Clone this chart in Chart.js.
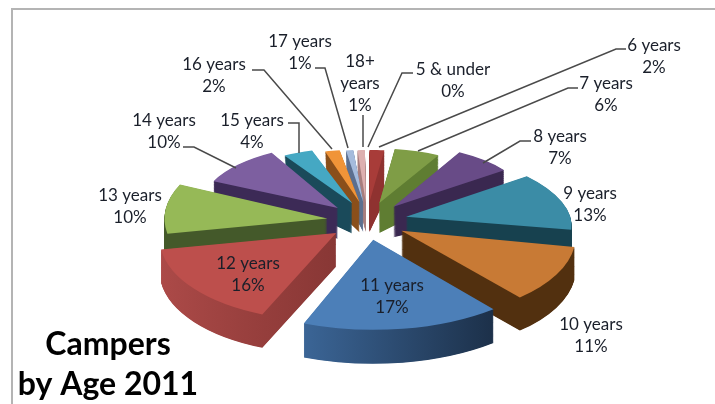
<!DOCTYPE html>
<html>
<head>
<meta charset="utf-8">
<title>Campers by Age 2011</title>
<script src="https://cdn.jsdelivr.net/npm/chart.js@4"></script>
<style>
    html, body { margin: 0; padding: 0; background: #fff; overflow: hidden; }
    #wrap { position: relative; width: 715px; height: 404px; }
    #frame { position: absolute; left: 11px; top: 8px; width: 720px; height: 420px; border: 2px solid #b4b4b4; box-sizing: border-box; }
    #pie { position: absolute; left: 0; top: 0; filter: blur(0.6px); }
</style>
</head>
<body>
<div id="wrap">
    <div id="frame"></div>
    <canvas id="pie" width="715" height="404"></canvas>
</div>
<script>
const categories = ['5 & under', '6 years', '7 years', '8 years', '9 years', '10 years', '11 years',
    '12 years', '13 years', '14 years', '15 years', '16 years', '17 years', '18+ years'];
const campers = [0, 2, 6, 7, 13, 11, 17, 16, 10, 10, 4, 2, 1, 1];

const topColors = ['#4a7ebb', '#a83c39', '#7f9d46', '#684b87', '#3b8ca6', '#c87a35', '#4c7fb8',
    '#bd4f4c', '#96b957', '#7d5fa0', '#45a8c3', '#f09438', '#a5bbdc', '#ddb0b0'];
const sideLeft = ['#33587f', '#8f3230', '#5f7d32', '#3a2850', '#17414f', '#52300f', '#3b6596',
    '#ac4a48', '#44592a', '#3c2a56', '#1a4a5a', '#8a4f1a', '#5c6f8f', '#a87e7e'];
const sideRight = ['#33587f', '#8f3230', '#5f7d32', '#3a2850', '#17414f', '#52300f', '#1c3049',
    '#883735', '#44592a', '#3c2a56', '#1a4a5a', '#8a4f1a', '#5c6f8f', '#a87e7e'];

// label anchor: x, first line y (remaining lines go 22px down)
const labelSpots = [[453, 70], [654, 46], [606, 84], [560, 137], [590, 194], [591, 325], [392, 286],
    [248, 264], [130, 196], [164, 121], [252, 121], [214, 65], [300, 42], [360, 62]];

const leaderLines = [
    [[413, 73], [402, 73], [368, 147]],
    [[626, 49], [616, 49], [379, 147]],
    [[578, 88], [568, 88], [418, 151]],
    [[531, 141], [520, 141], [483, 163]],
    [[183, 147], [194, 147], [236, 168]],
    [[288, 123], [299, 123], [299, 153]],
    [[252, 70], [264, 70], [332, 149]],
    [[315, 68], [325, 68], [348, 148]],
    [[363, 115], [363, 147]]
];

const hubX = 367, hubY = 221;

function sliceShape(arc) {
    const mid = (arc.startAngle + arc.endAngle) / 2 + Math.PI / 2;
    const c = Math.cos(mid), s = Math.sin(mid);
    const rightBack = s > 0 && c > 0 ? 5 * s : 0;
    const frontSide = c < -0.3 && Math.abs(s) > 0.5;
    const rightSide = s > 0 && c > 0 && c < 0.4;
    let lean = 0;
    if (c > 0.8 && s < 0) lean = -s * 0.5; // narrow slices at the back left
    if (rightSide) lean = 0.3;
    if (frontSide) lean = s > 0 ? 0.11 : -0.11;
    return {
        x: hubX + 40 * s,
        y: hubY - 19 * c,
        scale: (167 + rightBack - 31 * c - 18 * c * c) / arc.outerRadius * (frontSide ? 0.975 : 1),
        squash: rightSide ? 0.42 : 0.5 - 0.06 * Math.max(c, 0),
        // front slice looks wider, it is closest to the viewer
        widen: 1 + 0.05 * Math.pow(Math.max(-c, 0), 4),
        lean,
        depth: 32 - 2 * c,
        // bottom face shrinks toward the back of the pie
        bottomSquash: 1 - 0.4 * Math.max(c, 0),
        backness: c
    };
}

function paintArc(ctx, arc, shape, t, fill) {
    ctx.save();
    ctx.translate(shape.x, shape.y + t * shape.depth);
    ctx.transform(1, 0, shape.lean, 1, 0, 0);
    ctx.scale(shape.scale * shape.widen, shape.scale * shape.squash * (1 + t * (shape.bottomSquash - 1)));
    ctx.translate(-arc.x, -arc.y);
    const keep = arc.options;
    arc.options = { backgroundColor: fill, borderColor: fill, borderWidth: 0, offset: 0, spacing: 0,
        circular: true, borderRadius: 0, borderJoinStyle: 'round', selfJoin: false };
    arc.draw(ctx);
    arc.options = keep;
    ctx.restore();
}

const pie3d = {
    id: 'pie3d',
    beforeDatasetDraw() {
        return false;
    },
    afterDatasetsDraw(chart) {
        const ctx = chart.ctx;
        const arcs = chart.getDatasetMeta(0).data.map((arc, i) => ({ arc, i, shape: sliceShape(arc) }));
        arcs.sort((a, b) => b.shape.backness - a.shape.backness);
        arcs.forEach(({ arc, i, shape }) => {
            const r = arc.outerRadius;
            const xa = Math.cos(arc.startAngle) * r, xb = Math.cos(arc.endAngle) * r;
            const grad = ctx.createLinearGradient(arc.x + Math.min(xa, xb, 0), 0, arc.x + Math.max(xa, xb, 0) + 1, 0);
            grad.addColorStop(0, sideLeft[i]);
            grad.addColorStop(1, sideRight[i]);
            const steps = Math.ceil(shape.depth) * 2;
            for (let n = steps; n > 0; n--) {
                paintArc(ctx, arc, shape, n / steps, grad);
            }
            paintArc(ctx, arc, shape, 0, topColors[i]);
        });

        ctx.save();
        ctx.strokeStyle = '#4a4a4a';
        ctx.lineWidth = 1.5;
        leaderLines.forEach(line => {
            ctx.beginPath();
            line.forEach((p, n) => n ? ctx.lineTo(p[0], p[1]) : ctx.moveTo(p[0], p[1]));
            ctx.stroke();
        });

        ctx.fillStyle = '#1a1f2a';
        ctx.font = '17px Lato';
        ctx.textAlign = 'center';
        ctx.textBaseline = 'middle';
        categories.forEach((name, i) => {
            const [x, y] = labelSpots[i];
            const lines = name === '18+ years' ? ['18+', 'years'] : [name];
            lines.push(campers[i] + '%');
            lines.forEach((text, n) => ctx.fillText(text, x, y + n * 22));
        });

        ctx.fillStyle = '#000';
        ctx.font = 'bold 32px Lato';
        ctx.fillText('Campers', 108, 345);
        ctx.fillText('by Age 2011', 108, 385);
        ctx.restore();
    }
};

new Chart(document.getElementById('pie').getContext('2d'), {
    type: 'pie',
    data: {
        labels: categories,
        datasets: [{ data: campers, backgroundColor: topColors, borderWidth: 0 }]
    },
    options: {
        responsive: false,
        animation: false,
        radius: 180,
        plugins: {
            legend: { display: false },
            tooltip: { enabled: false }
        }
    },
    plugins: [pie3d]
});
</script>
</body>
</html>
